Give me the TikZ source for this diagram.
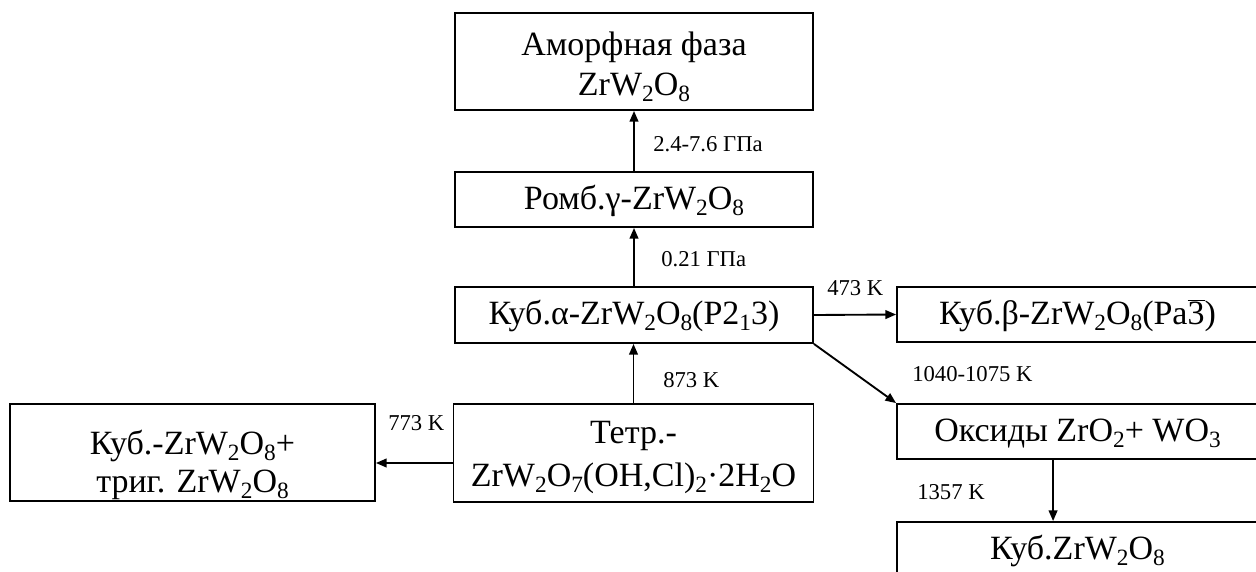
\documentclass[tikz,border=0pt]{standalone}
\usepackage{fontspec}
\setmainfont{Liberation Serif}
\usetikzlibrary{arrows.meta}
% chemical subscript: larger and lower than \textsubscript
\newcommand\sub[1]{\raisebox{-4.5pt}{\fontsize{17.5}{17.5}\selectfont #1}}
% struts that fix line heights in the two-line boxes
\newcommand\topstrut[1]{\rule{0pt}{#1}}
\newcommand\botstrut{\rule[-6pt]{0pt}{6pt}}
\tikzset{
  phase/.style={draw, line width=1.4pt, rectangle, inner sep=0pt, align=center,
    font=\fontsize{25.5}{30}\selectfont},
  oneline/.style={phase, text height=20pt, text depth=5.3pt},
  arr/.style={line width=1.4pt, -{Triangle[length=8pt,width=6.5pt]}},
  cond/.style={anchor=base west, inner sep=0pt, font=\fontsize{17}{20}\selectfont},
}
\begin{document}
\begin{tikzpicture}[x=0.75pt, y=-0.75pt]
\useasboundingbox (0,0) rectangle (1256,571);

% phases
\node[phase, minimum width=268.5pt, minimum height=72.75pt] (amorph) at (634,61.5)
  {\topstrut{26.25pt}Аморфная фаза\\ZrW\sub{2}O\sub{8}\botstrut};
\node[oneline, minimum width=268.5pt, minimum height=41.25pt] (romb) at (634,199.5)
  {Ромб.γ-ZrW\sub{2}O\sub{8}};
\node[oneline, minimum width=268.5pt, minimum height=42pt] (alpha) at (634,315)
  {Куб.α-ZrW\sub{2}O\sub{8}(P2\sub{1}3)};
\node[oneline, minimum width=270.75pt, minimum height=41.25pt] (beta) at (1077.5,314.5)
  {Куб.β-ZrW\sub{2}O\sub{8}(Pa$\overline{\mbox{3}}$)};
\node[oneline, minimum width=270.75pt, minimum height=41.25pt] (oxides) at (1077.5,431.5)
  {Оксиды ZrO\sub{2}+ WO\sub{3}};
\node[oneline, minimum width=270.75pt, minimum height=42pt] (cube) at (1077.5,550)
  {Куб.ZrW\sub{2}O\sub{8}};
\node[phase, minimum width=270pt, minimum height=73.5pt] (tetr) at (633.5,453)
  {\topstrut{24pt}Тетр.-\\[2.5pt]ZrW\sub{2}O\sub{7}(OH,Cl)\sub{2}·2H\sub{2}O\botstrut};
\node[phase, minimum width=273.75pt, minimum height=72.75pt] (mix) at (192.5,452.5)
  {\topstrut{36.75pt}Куб.-ZrW\sub{2}O\sub{8}+\\[-1.5pt]триг. ZrW\sub{2}O\sub{8}\botstrut};

% transitions
\draw[arr] (romb) -- (amorph);
\draw[arr] (alpha) -- (romb);
\draw[arr] (tetr.north) -- (tetr.north |- alpha.south);
\draw[arr] (alpha.east) -- (beta.west);
\draw[arr] (alpha.south east) -- (oxides.north west);
\path (oxides.south west) ++(157,0) coordinate (odown);
\draw[arr] (odown) -- (odown |- cube.north);
\draw[arr] ([yshift=-7.5pt]tetr.west) -- ([yshift=-7.5pt]tetr.west -| mix.east);

% conditions
\node[cond] (c1) at (653,151.7) {2.4-7.6 ГПа};
\node[cond] (c2) at (661,266.7) {0.21 ГПа};
\node[cond] (c3) at (827,295) {473 K};
\node[cond] (c4) at (663,387) {873 K};
\node[cond] (c5) at (912,381.7) {1040-1075 K};
\node[cond] (c6) at (388,430) {773 K};
\node[cond] (c7) at (917,499) {1357 K};
\end{tikzpicture}
\end{document}
